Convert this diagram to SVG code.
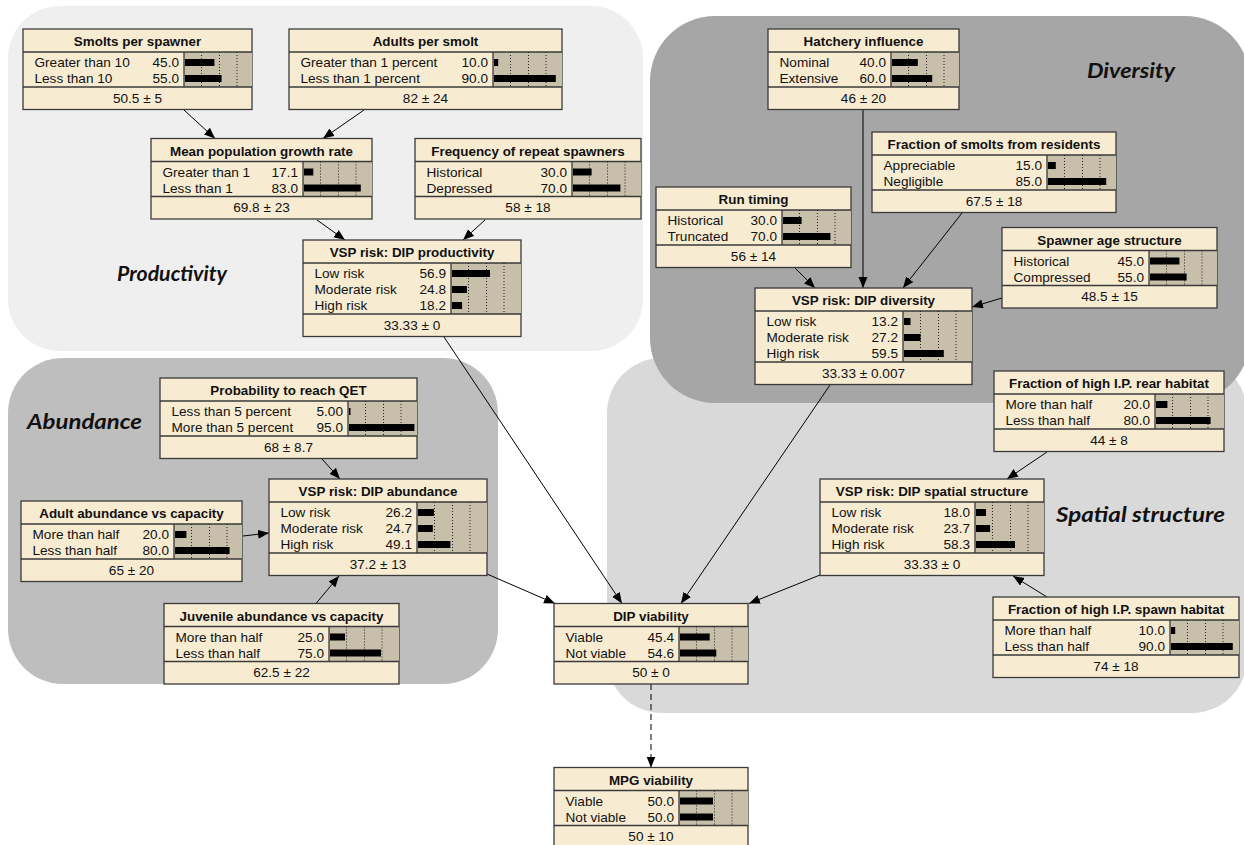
<svg xmlns="http://www.w3.org/2000/svg" width="1244" height="845" viewBox="0 0 1244 845">
<defs>
<style>
.box{fill:#f7ecd2;stroke:#3a3a3a;stroke-width:1.3}
.bg{fill:#c7bfa9}
.sep{stroke:#3a3a3a;stroke-width:1.3;fill:none}
.dot{stroke:#222;stroke-width:1;stroke-dasharray:1 2;fill:none}
.bar{fill:#000}
.t{font-family:"Liberation Sans",Arial,sans-serif;font-weight:bold;font-size:13.4px;text-anchor:middle;fill:#111}
.s{font-family:"Liberation Sans",Arial,sans-serif;font-size:13.6px;fill:#111}
.v{font-family:"Liberation Sans",Arial,sans-serif;font-size:13.6px;fill:#111;text-anchor:end}
.f{font-family:"Liberation Sans",Arial,sans-serif;font-size:13.6px;fill:#111;text-anchor:middle}
.rl{font-family:Lato,"Open Sans",sans-serif;font-weight:bold;font-style:italic;font-size:21px;fill:#111}
.edge{stroke:#000;stroke-width:1;fill:none;marker-end:url(#ah)}
.dash{stroke-dasharray:6 4}
</style>
<marker id="ah" markerUnits="userSpaceOnUse" markerWidth="12" markerHeight="10" refX="11" refY="4.5" orient="auto">
<path d="M0,0 L11,4.5 L0,9 Z" fill="#000"/>
</marker>
</defs>
<rect width="1244" height="845" fill="#fff"/>
<g id="regions">
<rect x="8" y="6" width="635" height="345" rx="52" fill="#efefef"/>
<rect x="607" y="358" width="640" height="355" rx="55" fill="#d9d9d9"/>
<rect x="650" y="16" width="600" height="387" rx="65" fill="#a6a6a6"/>
<rect x="8" y="358" width="490" height="326" rx="55" fill="#bebebe"/>
<text class="rl" x="117" y="281" textLength="110" lengthAdjust="spacingAndGlyphs">Productivity</text>
<text class="rl" x="27" y="429" textLength="115" lengthAdjust="spacingAndGlyphs">Abundance</text>
<text class="rl" x="1087" y="78" textLength="88" lengthAdjust="spacingAndGlyphs">Diversity</text>
<text class="rl" x="1056" y="522" textLength="169" lengthAdjust="spacingAndGlyphs">Spatial structure</text>
</g>
<g id="connectors">
<line class="edge" x1="184" y1="110" x2="215" y2="138.5"/>
<line class="edge" x1="364" y1="110" x2="323" y2="138.5"/>
<line class="edge" x1="317" y1="220" x2="345" y2="240"/>
<line class="edge" x1="485" y1="220" x2="463" y2="240"/>
<line class="edge" x1="444" y1="337" x2="622" y2="603.5"/>
<line class="edge" x1="830" y1="385" x2="681" y2="603.5"/>
<line class="edge" x1="820" y1="575" x2="749" y2="603.5"/>
<line class="edge" x1="487" y1="574" x2="555" y2="603.5"/>
<line class="edge" x1="322" y1="459" x2="340" y2="479"/>
<line class="edge" x1="243" y1="536" x2="269" y2="533"/>
<line class="edge" x1="316" y1="603.5" x2="339" y2="576"/>
<line class="edge dash" x1="651" y1="684" x2="651" y2="767.5"/>
<line class="edge" x1="863" y1="110" x2="863" y2="288"/>
<line class="edge" x1="962" y1="213" x2="903" y2="288"/>
<line class="edge" x1="795" y1="268" x2="815" y2="288"/>
<line class="edge" x1="1002" y1="298" x2="972" y2="307"/>
<line class="edge" x1="1047" y1="452" x2="1007" y2="479"/>
<line class="edge" x1="1047" y1="597" x2="1013" y2="576"/>
</g>

<g id="smolts-per-spawner" transform="translate(23,29)">
<rect class="box" width="229" height="80.5"/>
<rect class="bg" x="161" y="23" width="68" height="35"/>
<path class="sep" d="M0,23H229M0,58H229M161,23V58"/>
<path class="dot" d="M178.5,23V58M196.5,23V58M214,23V58"/>
<text class="t" x="114.5" y="17">Smolts per spawner</text>
<text class="s" x="11.5" y="38">Greater than 10</text><text class="v" x="156" y="38">45.0</text>
<text class="s" x="11.5" y="54">Less than 10</text><text class="v" x="156" y="54">55.0</text>
<rect class="bar" x="162" y="30" width="29.4" height="7"/><rect class="bar" x="162" y="46" width="36.6" height="7"/>
<text class="f" x="114.5" y="73.5">50.5 ± 5</text>
</g>

<g id="adults-per-smolt" transform="translate(289,29)">
<rect class="box" width="273" height="80.5"/>
<rect class="bg" x="204" y="23" width="69" height="35"/>
<path class="sep" d="M0,23H273M0,58H273M204,23V58"/>
<path class="dot" d="M221.5,23V58M239.5,23V58M257,23V58"/>
<text class="t" x="136.5" y="17">Adults per smolt</text>
<text class="s" x="11.5" y="38">Greater than 1 percent</text><text class="v" x="199" y="38">10.0</text>
<text class="s" x="11.5" y="54">Less than 1 percent</text><text class="v" x="199" y="54">90.0</text>
<rect class="bar" x="205" y="30" width="4.2" height="7"/><rect class="bar" x="205" y="46" width="61.8" height="7"/>
<text class="f" x="136.5" y="73.5">82 ± 24</text>
</g>

<g id="mean-population-growth-rate" transform="translate(151,138.5)">
<rect class="box" width="221" height="80.5"/>
<rect class="bg" x="152" y="23" width="69" height="35"/>
<path class="sep" d="M0,23H221M0,58H221M152,23V58"/>
<path class="dot" d="M169.5,23V58M187.5,23V58M205,23V58"/>
<text class="t" x="110.5" y="17">Mean population growth rate</text>
<text class="s" x="11.5" y="38">Greater than 1</text><text class="v" x="147" y="38">17.1</text>
<text class="s" x="11.5" y="54">Less than 1</text><text class="v" x="147" y="54">83.0</text>
<rect class="bar" x="153" y="30" width="9.3" height="7"/><rect class="bar" x="153" y="46" width="56.8" height="7"/>
<text class="f" x="110.5" y="73.5">69.8 ± 23</text>
</g>

<g id="frequency-of-repeat-spawners" transform="translate(415,138.5)">
<rect class="box" width="226" height="80.5"/>
<rect class="bg" x="157" y="23" width="69" height="35"/>
<path class="sep" d="M0,23H226M0,58H226M157,23V58"/>
<path class="dot" d="M174.5,23V58M192.5,23V58M210,23V58"/>
<text class="t" x="113" y="17">Frequency of repeat spawners</text>
<text class="s" x="11.5" y="38">Historical</text><text class="v" x="152" y="38">30.0</text>
<text class="s" x="11.5" y="54">Depressed</text><text class="v" x="152" y="54">70.0</text>
<rect class="bar" x="158" y="30" width="18.6" height="7"/><rect class="bar" x="158" y="46" width="47.4" height="7"/>
<text class="f" x="113" y="73.5">58 ± 18</text>
</g>

<g id="vsp-risk-dip-productivity" transform="translate(303,240)">
<rect class="box" width="218" height="96.5"/>
<rect class="bg" x="148" y="23" width="70" height="51"/>
<path class="sep" d="M0,23H218M0,74H218M148,23V74"/>
<path class="dot" d="M165.5,23V74M183.5,23V74M201,23V74"/>
<text class="t" x="109" y="17">VSP risk: DIP productivity</text>
<text class="s" x="11.5" y="38">Low risk</text><text class="v" x="143" y="38">56.9</text>
<text class="s" x="11.5" y="54">Moderate risk</text><text class="v" x="143" y="54">24.8</text>
<text class="s" x="11.5" y="70">High risk</text><text class="v" x="143" y="70">18.2</text>
<rect class="bar" x="149" y="30" width="38" height="7"/><rect class="bar" x="149" y="46" width="14.9" height="7"/><rect class="bar" x="149" y="62" width="10.1" height="7"/>
<text class="f" x="109" y="89.5">33.33 ± 0</text>
</g>

<g id="hatchery-influence" transform="translate(768,29)">
<rect class="box" width="191" height="80.5"/>
<rect class="bg" x="123" y="23" width="68" height="35"/>
<path class="sep" d="M0,23H191M0,58H191M123,23V58"/>
<path class="dot" d="M140.5,23V58M158.5,23V58M176,23V58"/>
<text class="t" x="95.5" y="17">Hatchery influence</text>
<text class="s" x="11.5" y="38">Nominal</text><text class="v" x="118" y="38">40.0</text>
<text class="s" x="11.5" y="54">Extensive</text><text class="v" x="118" y="54">60.0</text>
<rect class="bar" x="124" y="30" width="25.8" height="7"/><rect class="bar" x="124" y="46" width="40.2" height="7"/>
<text class="f" x="95.5" y="73.5">46 ± 20</text>
</g>

<g id="fraction-of-smolts-from-residents" transform="translate(872,132)">
<rect class="box" width="244" height="80.5"/>
<rect class="bg" x="175" y="23" width="69" height="35"/>
<path class="sep" d="M0,23H244M0,58H244M175,23V58"/>
<path class="dot" d="M192.5,23V58M210.5,23V58M228,23V58"/>
<text class="t" x="122" y="17">Fraction of smolts from residents</text>
<text class="s" x="11.5" y="38">Appreciable</text><text class="v" x="170" y="38">15.0</text>
<text class="s" x="11.5" y="54">Negligible</text><text class="v" x="170" y="54">85.0</text>
<rect class="bar" x="176" y="30" width="7.8" height="7"/><rect class="bar" x="176" y="46" width="58.2" height="7"/>
<text class="f" x="122" y="73.5">67.5 ± 18</text>
</g>

<g id="run-timing" transform="translate(656,187)">
<rect class="box" width="195" height="80.5"/>
<rect class="bg" x="126" y="23" width="69" height="35"/>
<path class="sep" d="M0,23H195M0,58H195M126,23V58"/>
<path class="dot" d="M143.5,23V58M161.5,23V58M179,23V58"/>
<text class="t" x="97.5" y="17">Run timing</text>
<text class="s" x="11.5" y="38">Historical</text><text class="v" x="121" y="38">30.0</text>
<text class="s" x="11.5" y="54">Truncated</text><text class="v" x="121" y="54">70.0</text>
<rect class="bar" x="127" y="30" width="18.6" height="7"/><rect class="bar" x="127" y="46" width="47.4" height="7"/>
<text class="f" x="97.5" y="73.5">56 ± 14</text>
</g>

<g id="spawner-age-structure" transform="translate(1002,227.5)">
<rect class="box" width="215" height="80.5"/>
<rect class="bg" x="147" y="23" width="68" height="35"/>
<path class="sep" d="M0,23H215M0,58H215M147,23V58"/>
<path class="dot" d="M164.5,23V58M182.5,23V58M200,23V58"/>
<text class="t" x="107.5" y="17">Spawner age structure</text>
<text class="s" x="11.5" y="38">Historical</text><text class="v" x="142" y="38">45.0</text>
<text class="s" x="11.5" y="54">Compressed</text><text class="v" x="142" y="54">55.0</text>
<rect class="bar" x="148" y="30" width="29.4" height="7"/><rect class="bar" x="148" y="46" width="36.6" height="7"/>
<text class="f" x="107.5" y="73.5">48.5 ± 15</text>
</g>

<g id="vsp-risk-dip-diversity" transform="translate(755,288)">
<rect class="box" width="217" height="96.5"/>
<rect class="bg" x="148" y="23" width="69" height="51"/>
<path class="sep" d="M0,23H217M0,74H217M148,23V74"/>
<path class="dot" d="M165.5,23V74M183.5,23V74M201,23V74"/>
<text class="t" x="108.5" y="17">VSP risk: DIP diversity</text>
<text class="s" x="11.5" y="38">Low risk</text><text class="v" x="143" y="38">13.2</text>
<text class="s" x="11.5" y="54">Moderate risk</text><text class="v" x="143" y="54">27.2</text>
<text class="s" x="11.5" y="70">High risk</text><text class="v" x="143" y="70">59.5</text>
<rect class="bar" x="149" y="30" width="6.5" height="7"/><rect class="bar" x="149" y="46" width="16.6" height="7"/><rect class="bar" x="149" y="62" width="39.8" height="7"/>
<text class="f" x="108.5" y="89.5">33.33 ± 0.007</text>
</g>

<g id="probability-to-reach-qet" transform="translate(160,378)">
<rect class="box" width="257" height="80.5"/>
<rect class="bg" x="188" y="23" width="69" height="35"/>
<path class="sep" d="M0,23H257M0,58H257M188,23V58"/>
<path class="dot" d="M205.5,23V58M223.5,23V58M241,23V58"/>
<text class="t" x="128.5" y="17">Probability to reach QET</text>
<text class="s" x="11.5" y="38">Less than 5 percent</text><text class="v" x="183" y="38">5.00</text>
<text class="s" x="11.5" y="54">More than 5 percent</text><text class="v" x="183" y="54">95.0</text>
<rect class="bar" x="189" y="30" width="1.5" height="7"/><rect class="bar" x="189" y="46" width="65.4" height="7"/>
<text class="f" x="128.5" y="73.5">68 ± 8.7</text>
</g>

<g id="adult-abundance-vs-capacity" transform="translate(21,501)">
<rect class="box" width="221" height="80.5"/>
<rect class="bg" x="153" y="23" width="68" height="35"/>
<path class="sep" d="M0,23H221M0,58H221M153,23V58"/>
<path class="dot" d="M170.5,23V58M188.5,23V58M206,23V58"/>
<text class="t" x="110.5" y="17">Adult abundance vs capacity</text>
<text class="s" x="11.5" y="38">More than half</text><text class="v" x="148" y="38">20.0</text>
<text class="s" x="11.5" y="54">Less than half</text><text class="v" x="148" y="54">80.0</text>
<rect class="bar" x="154" y="30" width="11.4" height="7"/><rect class="bar" x="154" y="46" width="54.6" height="7"/>
<text class="f" x="110.5" y="73.5">65 ± 20</text>
</g>

<g id="vsp-risk-dip-abundance" transform="translate(269,479)">
<rect class="box" width="218" height="96.5"/>
<rect class="bg" x="148" y="23" width="70" height="51"/>
<path class="sep" d="M0,23H218M0,74H218M148,23V74"/>
<path class="dot" d="M165.5,23V74M183.5,23V74M201,23V74"/>
<text class="t" x="109" y="17">VSP risk: DIP abundance</text>
<text class="s" x="11.5" y="38">Low risk</text><text class="v" x="143" y="38">26.2</text>
<text class="s" x="11.5" y="54">Moderate risk</text><text class="v" x="143" y="54">24.7</text>
<text class="s" x="11.5" y="70">High risk</text><text class="v" x="143" y="70">49.1</text>
<rect class="bar" x="149" y="30" width="15.9" height="7"/><rect class="bar" x="149" y="46" width="14.8" height="7"/><rect class="bar" x="149" y="62" width="32.4" height="7"/>
<text class="f" x="109" y="89.5">37.2 ± 13</text>
</g>

<g id="juvenile-abundance-vs-capacity" transform="translate(164,603.5)">
<rect class="box" width="235" height="80.5"/>
<rect class="bg" x="165" y="23" width="70" height="35"/>
<path class="sep" d="M0,23H235M0,58H235M165,23V58"/>
<path class="dot" d="M182.5,23V58M200.5,23V58M218,23V58"/>
<text class="t" x="117.5" y="17">Juvenile abundance vs capacity</text>
<text class="s" x="11.5" y="38">More than half</text><text class="v" x="160" y="38">25.0</text>
<text class="s" x="11.5" y="54">Less than half</text><text class="v" x="160" y="54">75.0</text>
<rect class="bar" x="166" y="30" width="15" height="7"/><rect class="bar" x="166" y="46" width="51" height="7"/>
<text class="f" x="117.5" y="73.5">62.5 ± 22</text>
</g>

<g id="dip-viability" transform="translate(554,603.5)">
<rect class="box" width="194" height="80.5"/>
<rect class="bg" x="125" y="23" width="69" height="35"/>
<path class="sep" d="M0,23H194M0,58H194M125,23V58"/>
<path class="dot" d="M142.5,23V58M160.5,23V58M178,23V58"/>
<text class="t" x="97" y="17">DIP viability</text>
<text class="s" x="11.5" y="38">Viable</text><text class="v" x="120" y="38">45.4</text>
<text class="s" x="11.5" y="54">Not viable</text><text class="v" x="120" y="54">54.6</text>
<rect class="bar" x="126" y="30" width="29.7" height="7"/><rect class="bar" x="126" y="46" width="36.3" height="7"/>
<text class="f" x="97" y="73.5">50 ± 0</text>
</g>

<g id="mpg-viability" transform="translate(554,767.5)">
<rect class="box" width="194" height="80.5"/>
<rect class="bg" x="125" y="23" width="69" height="35"/>
<path class="sep" d="M0,23H194M0,58H194M125,23V58"/>
<path class="dot" d="M142.5,23V58M160.5,23V58M178,23V58"/>
<text class="t" x="97" y="17">MPG viability</text>
<text class="s" x="11.5" y="38">Viable</text><text class="v" x="120" y="38">50.0</text>
<text class="s" x="11.5" y="54">Not viable</text><text class="v" x="120" y="54">50.0</text>
<rect class="bar" x="126" y="30" width="33" height="7"/><rect class="bar" x="126" y="46" width="33" height="7"/>
<text class="f" x="97" y="73.5">50 ± 10</text>
</g>

<g id="fraction-of-high-ip-rear-habitat" transform="translate(994,371)">
<rect class="box" width="230" height="80.5"/>
<rect class="bg" x="161" y="23" width="69" height="35"/>
<path class="sep" d="M0,23H230M0,58H230M161,23V58"/>
<path class="dot" d="M178.5,23V58M196.5,23V58M214,23V58"/>
<text class="t" x="115" y="17">Fraction of high I.P. rear habitat</text>
<text class="s" x="11.5" y="38">More than half</text><text class="v" x="156" y="38">20.0</text>
<text class="s" x="11.5" y="54">Less than half</text><text class="v" x="156" y="54">80.0</text>
<rect class="bar" x="162" y="30" width="11.4" height="7"/><rect class="bar" x="162" y="46" width="54.6" height="7"/>
<text class="f" x="115" y="73.5">44 ± 8</text>
</g>

<g id="vsp-risk-dip-spatial-structure" transform="translate(820,479)">
<rect class="box" width="224" height="96.5"/>
<rect class="bg" x="155" y="23" width="69" height="51"/>
<path class="sep" d="M0,23H224M0,74H224M155,23V74"/>
<path class="dot" d="M172.5,23V74M190.5,23V74M208,23V74"/>
<text class="t" x="112" y="17">VSP risk: DIP spatial structure</text>
<text class="s" x="11.5" y="38">Low risk</text><text class="v" x="150" y="38">18.0</text>
<text class="s" x="11.5" y="54">Moderate risk</text><text class="v" x="150" y="54">23.7</text>
<text class="s" x="11.5" y="70">High risk</text><text class="v" x="150" y="70">58.3</text>
<rect class="bar" x="156" y="30" width="10" height="7"/><rect class="bar" x="156" y="46" width="14.1" height="7"/><rect class="bar" x="156" y="62" width="39" height="7"/>
<text class="f" x="112" y="89.5">33.33 ± 0</text>
</g>

<g id="fraction-of-high-ip-spawn-habitat" transform="translate(993,597)">
<rect class="box" width="246" height="80.5"/>
<rect class="bg" x="177" y="23" width="69" height="35"/>
<path class="sep" d="M0,23H246M0,58H246M177,23V58"/>
<path class="dot" d="M194.5,23V58M212.5,23V58M230,23V58"/>
<text class="t" x="123" y="17">Fraction of high I.P. spawn habitat</text>
<text class="s" x="11.5" y="38">More than half</text><text class="v" x="172" y="38">10.0</text>
<text class="s" x="11.5" y="54">Less than half</text><text class="v" x="172" y="54">90.0</text>
<rect class="bar" x="178" y="30" width="4.2" height="7"/><rect class="bar" x="178" y="46" width="61.8" height="7"/>
<text class="f" x="123" y="73.5">74 ± 18</text>
</g>
</svg>
